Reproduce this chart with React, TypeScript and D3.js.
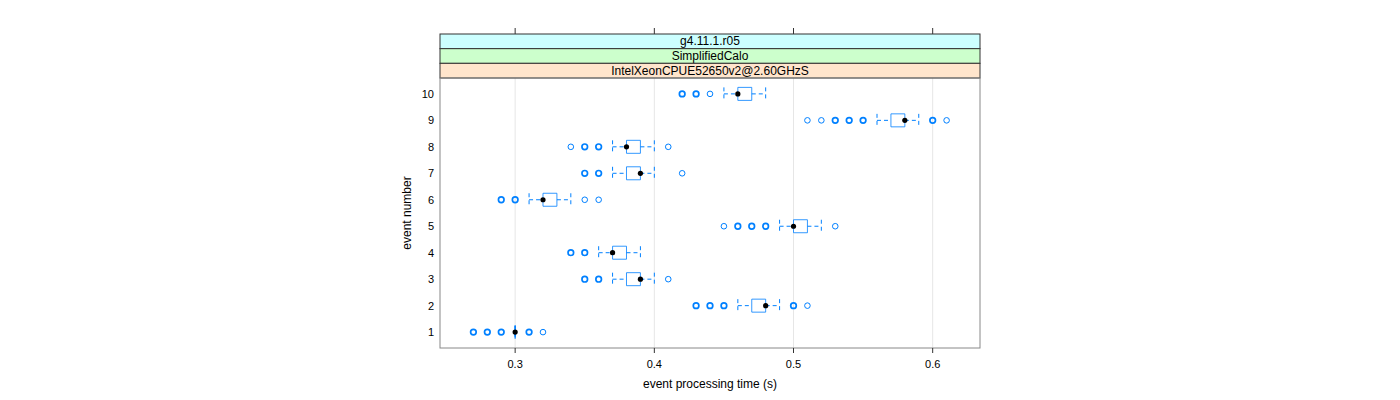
import React from 'react';
import * as d3 from 'd3';

// event number on the y axis, times in seconds
const events = [1, 2, 3, 4, 5, 6, 7, 8, 9, 10];
const whiskerLow = [0.30, 0.46, 0.37, 0.36, 0.49, 0.31, 0.37, 0.37, 0.56, 0.45];
const q1 = [0.30, 0.47, 0.38, 0.37, 0.50, 0.32, 0.38, 0.38, 0.57, 0.46];
const medians = [0.30, 0.48, 0.39, 0.37, 0.50, 0.32, 0.39, 0.38, 0.58, 0.46];
const q3 = [0.30, 0.48, 0.39, 0.38, 0.51, 0.33, 0.39, 0.39, 0.58, 0.47];
const whiskerHigh = [0.30, 0.49, 0.40, 0.39, 0.52, 0.34, 0.40, 0.40, 0.59, 0.48];
// [value, how many runs landed there]
const outliers: [number, number][][] = [
  [[0.27, 3], [0.28, 3], [0.29, 3], [0.31, 2], [0.32, 1]],
  [[0.43, 2], [0.44, 2], [0.45, 2], [0.50, 2], [0.51, 1]],
  [[0.35, 2], [0.36, 2], [0.41, 1]],
  [[0.34, 2], [0.35, 2]],
  [[0.45, 1], [0.46, 3], [0.47, 2], [0.48, 2], [0.53, 1]],
  [[0.29, 2], [0.30, 2], [0.35, 1], [0.36, 1]],
  [[0.35, 2], [0.36, 2], [0.42, 1]],
  [[0.34, 1], [0.35, 2], [0.36, 2], [0.41, 1]],
  [[0.51, 1], [0.52, 1], [0.53, 2], [0.54, 2], [0.55, 2], [0.60, 2], [0.61, 1]],
  [[0.42, 2], [0.43, 2], [0.44, 1]],
];
const xTicks = [0.3, 0.4, 0.5, 0.6];
const strips = ['g4.11.1.r05', 'SimplifiedCalo', 'IntelXeonCPUE52650v2@2.60GHzS'];
const stripColors = ['#ccffff', '#ccffcc', '#ffe5cc'];

const W = 1400;
const H = 400;
const left = 440;
const right = 980;
const panelTop = 78;
const panelBottom = 348;
const stripH = (panelTop - 34) / strips.length;
const blue = '#0080ff';
const font = '"Liberation Sans", Arial, sans-serif';

const App: React.FC = () => {
  const x = d3.scaleLinear().domain([0.246, 0.634]).range([left, right]);
  const y = d3.scaleLinear().domain([0.4, 10.6]).range([panelBottom, panelTop]);
  const boxH = 13;

  return (
    <svg width={W} height={H} style={{ position: 'absolute', left: 0, top: 0 }} fontFamily={font}>
      <rect width={W} height={H} fill="#fff" />

      {/* grid */}
      {xTicks.map(t => (
        <line key={'g' + t} x1={x(t)} x2={x(t)} y1={panelTop} y2={panelBottom} stroke="#e6e6e6" />
      ))}

      {/* strips */}
      {strips.map((s, i) => {
        const top = 34 + i * stripH;
        return (
          <g key={s}>
            <rect x={left} y={top} width={right - left} height={stripH} fill={stripColors[i]} stroke="#333" strokeWidth={1} />
            <text x={(left + right) / 2} y={top + stripH / 2 + 4} textAnchor="middle" fontSize={12} fill="#000">{s}</text>
          </g>
        );
      })}

      {/* boxes */}
      {events.map((e, i) => {
        const cy = y(e);
        const x0 = x(q1[i]);
        const x1 = x(q3[i]);
        const boxPath = `M${x0},${cy - boxH / 2}H${x1}V${cy + boxH / 2}H${x0}Z`;
        return (
          <g key={'e' + e}>
            <line x1={x(whiskerLow[i])} x2={x0} y1={cy} y2={cy} stroke={blue} strokeDasharray="4 3" />
            <line x1={x1} x2={x(whiskerHigh[i])} y1={cy} y2={cy} stroke={blue} strokeDasharray="4 3" />
            <line x1={x(whiskerLow[i])} x2={x(whiskerLow[i])} y1={cy - boxH / 2} y2={cy + boxH / 2} stroke={blue} strokeDasharray="4 3" />
            <line x1={x(whiskerHigh[i])} x2={x(whiskerHigh[i])} y1={cy - boxH / 2} y2={cy + boxH / 2} stroke={blue} strokeDasharray="4 3" />
            <path d={boxPath} fill="none" stroke={blue} strokeOpacity={0.8} />
            {outliers[i].map(([v, n]) => (
              <circle key={v} cx={x(v)} cy={cy} r={2.8} fill="none" stroke={blue} strokeWidth={n > 1 ? 1.7 : 1} />
            ))}
            <circle cx={x(medians[i])} cy={cy} r={2.6} fill="#000" />
          </g>
        );
      })}

      {/* panel border */}
      <rect x={left} y={panelTop} width={right - left} height={panelBottom - panelTop} fill="none" stroke="#888" />

      {/* x ticks, top and bottom */}
      {xTicks.map(t => (
        <g key={'t' + t}>
          <line x1={x(t)} x2={x(t)} y1={28} y2={34} stroke="#333" />
          <line x1={x(t)} x2={x(t)} y1={panelBottom} y2={panelBottom + 5} stroke="#333" />
          <text x={x(t)} y={368} textAnchor="middle" fontSize={11}>{d3.format('.1f')(t)}</text>
        </g>
      ))}

      {/* y labels */}
      {events.map(e => (
        <text key={'y' + e} x={434} y={y(e) + 4} textAnchor="end" fontSize={11}>{e}</text>
      ))}

      <text x={(left + right) / 2} y={388} textAnchor="middle" fontSize={12}>event processing time (s)</text>
      <text transform={`translate(411,${(panelTop + panelBottom) / 2}) rotate(-90)`} textAnchor="middle" fontSize={12}>event number</text>
    </svg>
  );
};

export default App;
